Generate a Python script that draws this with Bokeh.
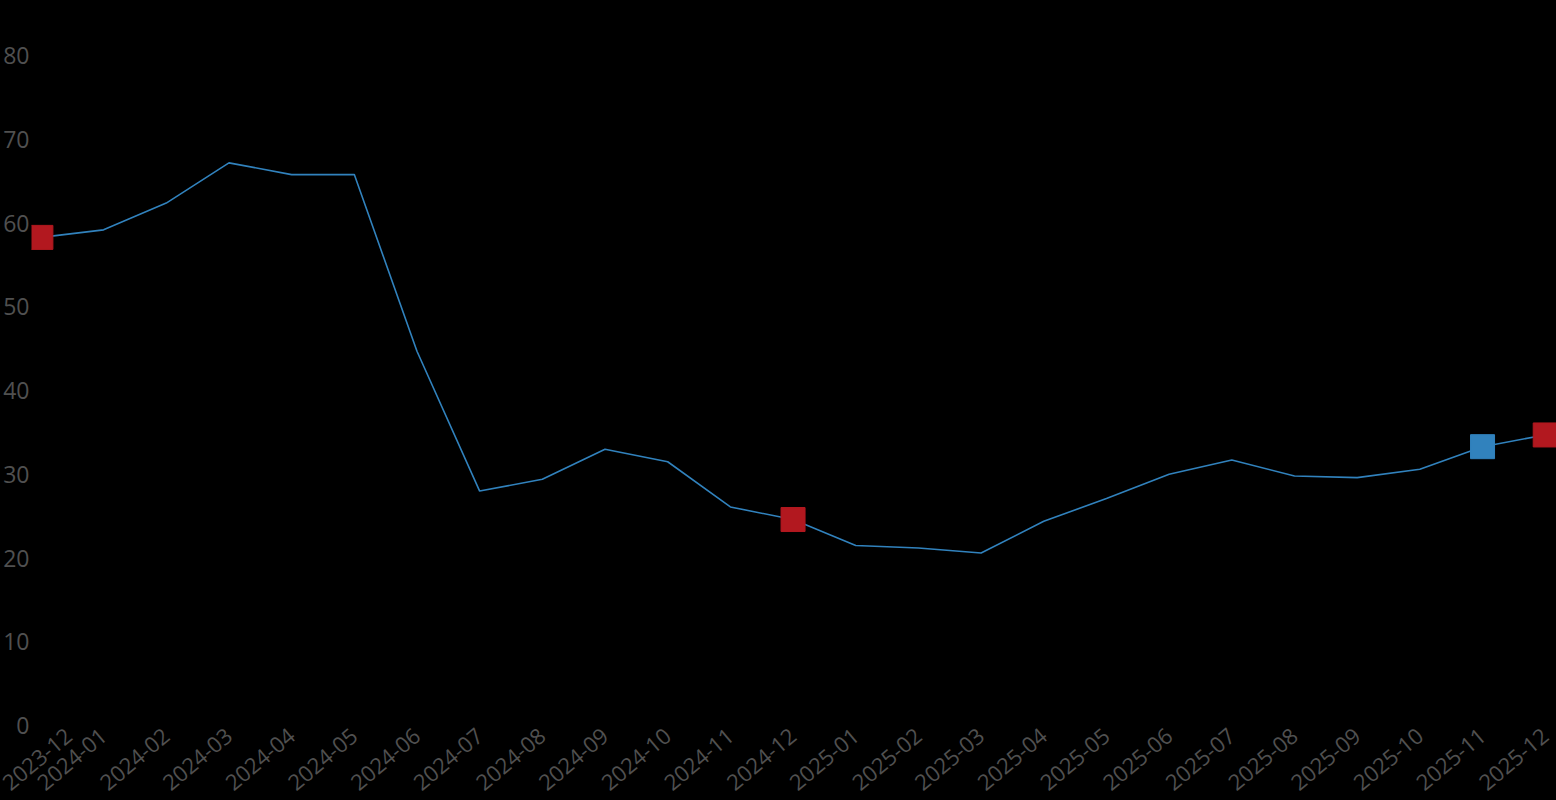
from bokeh.plotting import figure
from bokeh.models import Range1d, FixedTicker, ColumnDataSource
from bokeh.embed import file_html
from bokeh.resources import INLINE

months = ["2023-12", "2024-01", "2024-02", "2024-03", "2024-04", "2024-05",
          "2024-06", "2024-07", "2024-08", "2024-09", "2024-10", "2024-11",
          "2024-12", "2025-01", "2025-02", "2025-03", "2025-04", "2025-05",
          "2025-06", "2025-07", "2025-08", "2025-09", "2025-10", "2025-11",
          "2025-12"]
values = [58.3, 59.2, 62.4, 67.2, 65.8, 65.8,
          44.7, 28.0, 29.4, 33.0, 31.5, 26.1,
          24.6, 21.5, 21.2, 20.6, 24.4, 27.1,
          30.0, 31.7, 29.8, 29.6, 30.6, 33.3,
          34.7]
red_months = ["2023-12", "2024-12", "2025-12"]
blue_months = ["2025-11"]
y_ticks = [0, 10, 20, 30, 40, 50, 60, 70, 80]

LINE_BLUE = "#3182bd"
MARK_RED = "#b2181f"
LABEL = "#505050"
FONT = "Open Sans"

idx = list(range(len(months)))
src = ColumnDataSource(dict(x=idx, y=values))
red_src = ColumnDataSource(dict(x=[months.index(m) for m in red_months],
                                y=[values[months.index(m)] for m in red_months]))
blue_src = ColumnDataSource(dict(x=[months.index(m) for m in blue_months],
                                 y=[values[months.index(m)] for m in blue_months]))

p = figure(width=1556, height=800, output_backend="svg", toolbar_location=None,
           x_range=Range1d(-0.15, 24.18), y_range=Range1d(-0.84, 85.4),
           background_fill_color="black", border_fill_color="black",
           min_border_top=10, min_border_right=0, min_border_left=0, min_border_bottom=0)
p.outline_line_color = None
p.grid.visible = False

p.line("x", "y", source=src, line_color=LINE_BLUE, line_width=1.6)
p.scatter("x", "y", source=red_src, marker="square", size=24,
          fill_color=MARK_RED, line_color=MARK_RED)
p.scatter("x", "y", source=blue_src, marker="square", size=24,
          fill_color=LINE_BLUE, line_color=LINE_BLUE)

p.xaxis.ticker = FixedTicker(ticks=idx)
p.xaxis.major_label_overrides = {i: m for i, m in enumerate(months)}
p.xaxis.major_label_orientation = 0.7
p.yaxis.ticker = FixedTicker(ticks=y_ticks)

for ax in (p.xaxis, p.yaxis):
    ax.axis_line_color = None
    ax.major_tick_line_color = None
    ax.minor_tick_line_color = None
    ax.major_tick_out = 0
    ax.major_tick_in = 0
    ax.major_label_text_color = LABEL
    ax.major_label_text_font = FONT
p.yaxis.major_label_text_font_size = "23px"
p.xaxis.major_label_text_font_size = "22px"
p.yaxis.major_label_standoff = 2
p.xaxis.major_label_standoff = 0

html = file_html(p, INLINE)
html = html.replace("<head>", "<head><style>html, body { background: #000; }</style>", 1)
open("out.html", "w").write(html)
